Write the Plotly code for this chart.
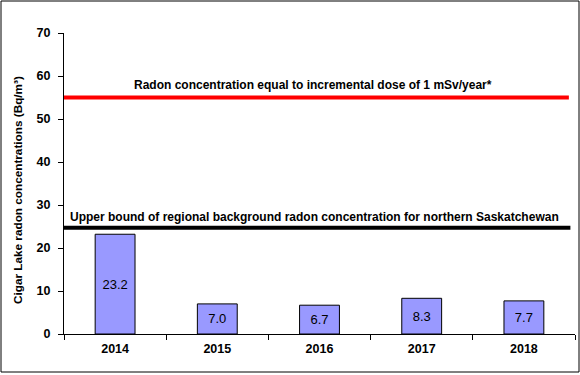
import plotly.graph_objects as go

years = ["2014", "2015", "2016", "2017", "2018"]
radon = [23.2, 7.0, 6.7, 8.3, 7.7]
labels = ["23.2", "7.0", "6.7", "8.3", "7.7"]
dose_level = 55
background_level = 24.7
dose_text = "Radon concentration equal to incremental dose of 1 mSv/year*"
background_text = "Upper bound of regional background radon concentration for northern Saskatchewan"
y_title = "Cigar Lake radon concentrations (Bq/m³)"

W, H = 580, 375
L, R, T, B = 64, 5, 33, 41
pw, ph = W - L - R, H - T - B
FONT = "Liberation Sans, Arial"

fig = go.Figure()
fig.add_trace(go.Bar(
    x=years, y=radon, text=labels, texttemplate="%{text}",
    textposition="inside", insidetextanchor="middle",
    textfont=dict(family=FONT, size=13, color="black"),
    marker=dict(color="#9999FF", line=dict(color="black", width=1)),
    width=0.39, hoverinfo="skip",
))

fig.add_shape(type="line", xref="x domain", yref="y", x0=0, x1=0.988,
              y0=dose_level, y1=dose_level, line=dict(color="#FF0000", width=4))
fig.add_shape(type="line", xref="x domain", yref="y", x0=0, x1=0.991,
              y0=background_level, y1=background_level, line=dict(color="black", width=4))

fig.add_annotation(text="<b>" + dose_text + "</b>", xref="x domain", yref="y",
                   x=0.488, y=dose_level + 2.9, xanchor="center", yanchor="middle",
                   showarrow=False, font=dict(family=FONT, size=12, color="black"))
fig.add_annotation(text="<b>" + background_text + "</b>", xref="x domain", yref="y",
                   x=0.491, y=background_level + 2.4, xanchor="center", yanchor="middle",
                   showarrow=False, font=dict(family=FONT, size=12, color="black"))

# y-axis title
fig.add_annotation(text="<b>" + y_title + "</b>", xref="paper", yref="paper",
                   x=(17.5 - L) / pw, y=(H - B - 190.5) / ph, textangle=-90,
                   xanchor="center", yanchor="middle", showarrow=False,
                   font=dict(family=FONT, size=11.75, color="black"))

# outer border
fig.add_shape(type="rect", xref="paper", yref="paper",
              x0=(1 - L) / pw, x1=(579 - L) / pw,
              y0=(H - B - 372) / ph, y1=(H - B - 1) / ph,
              line=dict(color="black", width=1), fillcolor="rgba(0,0,0,0)")

fig.update_layout(
    width=W, height=H,
    margin=dict(l=L, r=R, t=T, b=B, autoexpand=False),
    plot_bgcolor="white", paper_bgcolor="white",
    showlegend=False,
    font=dict(family=FONT, color="black"),
    xaxis=dict(
        type="category", tickson="boundaries", ticks="outside", ticklen=5,
        tickcolor="black", showline=True, linecolor="black", linewidth=1,
        showgrid=False, tickfont=dict(size=12.5, family=FONT),
        tickprefix="<b>", ticksuffix="</b>", automargin=False,
        ticklabelstandoff=3,
    ),
    yaxis=dict(
        range=[0, 70], dtick=10, ticks="outside", ticklen=5, tickcolor="black",
        showline=True, linecolor="black", linewidth=1, showgrid=False, zeroline=False,
        tickfont=dict(size=12.5, family=FONT),
        tickprefix="<b>", ticksuffix="</b>", automargin=False,
        ticklabelstandoff=5,
    ),
)

fig.write_html("out.html", config={"displayModeBar": False},
               post_script="document.body.style.margin='0';document.body.style.overflow='hidden';")
